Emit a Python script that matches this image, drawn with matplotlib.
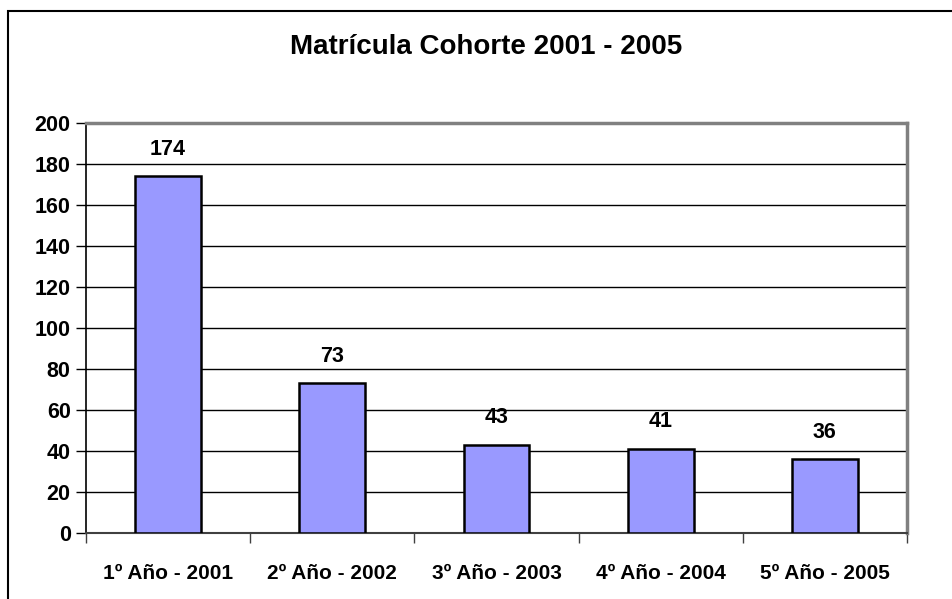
import matplotlib
matplotlib.use("Agg")
import matplotlib.pyplot as plt
from matplotlib.patches import Rectangle
import numpy as np

categorias = ["1º Año - 2001", "2º Año - 2002", "3º Año - 2003", "4º Año - 2004", "5º Año - 2005"]
matricula = [174, 73, 43, 41, 36]
y_ticks = [0, 20, 40, 60, 80, 100, 120, 140, 160, 180, 200]

plt.rcParams['font.family'] = ['Liberation Sans', 'DejaVu Sans']
plt.rcParams['font.weight'] = 'bold'

fig = plt.figure(figsize=(9.53, 5.99), dpi=100)
ax = fig.add_axes([86 / 953, 1 - 533 / 599, (907 - 86) / 953, (533 - 123) / 599])

x = np.arange(len(categorias))
bars = ax.bar(x, matricula, width=0.4, color="#9999FF", edgecolor="black", linewidth=1.8, zorder=3)
for b, v in zip(bars, matricula):
    ax.annotate(str(v), (b.get_x() + b.get_width() / 2, v), xytext=(0, 12), textcoords="offset points",
                ha="center", va="bottom", fontsize=15.5, fontweight="bold")

ax.set_xlim(-0.5, len(categorias) - 0.5)
ax.set_ylim(0, 200)
ax.set_yticks(y_ticks)
ax.set_yticklabels([str(t) for t in y_ticks], fontsize=15.5, fontweight="bold")
ax.set_xticks(x)
ax.set_xticklabels(categorias, fontsize=15, fontweight="bold")
ax.set_xticks(np.arange(len(categorias) + 1) - 0.5, minor=True)
ax.tick_params(axis="x", which="major", length=0, pad=22)
ax.tick_params(axis="x", which="minor", length=7, width=1, color="#404040", direction="out")
ax.tick_params(axis="y", length=7, width=1, direction="out", pad=4)
ax.yaxis.grid(True, color="black", linewidth=1, zorder=0)
ax.set_axisbelow(True)

for s in ["top", "right"]:
    ax.spines[s].set_color("#808080")
    ax.spines[s].set_linewidth(2.5)
ax.spines["left"].set_color("black")
ax.spines["left"].set_linewidth(1.2)
ax.spines["bottom"].set_color("#404040")
ax.spines["bottom"].set_linewidth(1.5)

fig.text(486 / 953, 1 - 47 / 599, "Matrícula Cohorte 2001 - 2005", ha="center", va="center",
         fontsize=20, fontweight="bold")

# outer chart frame (only top and left visible)
fig.patches.append(Rectangle((8 / 953, -0.2), 1.2, 1.2 - 11 / 599, transform=fig.transFigure,
                             fill=False, edgecolor="black", linewidth=1.5))

fig.savefig("out.png", dpi=100)
